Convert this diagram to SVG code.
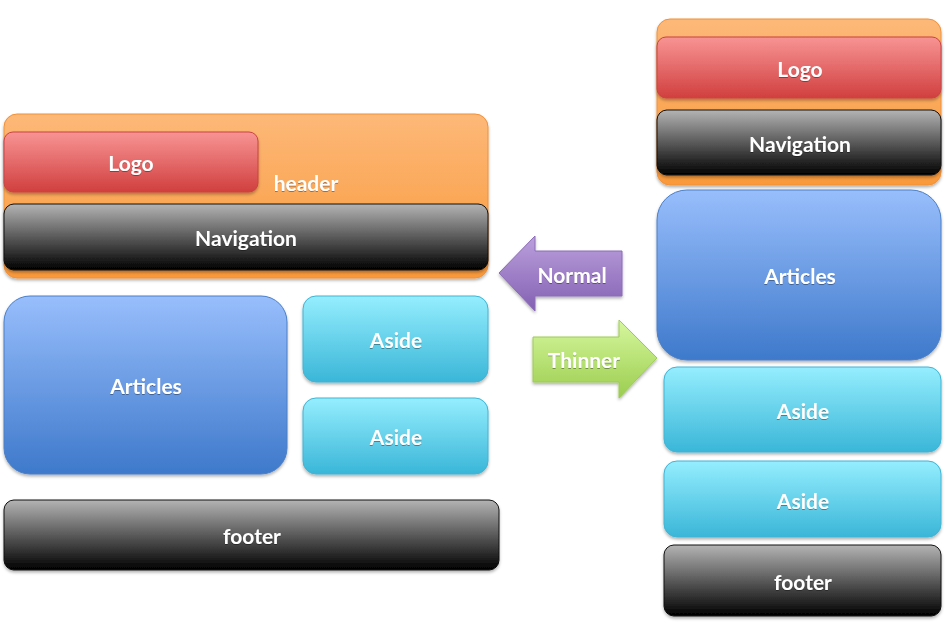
<svg xmlns="http://www.w3.org/2000/svg" width="947" height="625" viewBox="0 0 947 625">
<defs>
<linearGradient id="gOrange" x1="0" y1="0" x2="0" y2="1"><stop offset="0" stop-color="#fdb878"/><stop offset="1" stop-color="#f9993a"/></linearGradient>
<linearGradient id="gRed" x1="0" y1="0" x2="0" y2="1"><stop offset="0" stop-color="#f89494"/><stop offset="1" stop-color="#d13f3f"/></linearGradient>
<linearGradient id="gBlack" x1="0" y1="0" x2="0" y2="1"><stop offset="0" stop-color="#b4b4b4"/><stop offset="1" stop-color="#000000"/></linearGradient>
<linearGradient id="gBlue" x1="0" y1="0" x2="0" y2="1"><stop offset="0" stop-color="#98befc"/><stop offset="1" stop-color="#3e79cb"/></linearGradient>
<linearGradient id="gCyan" x1="0" y1="0" x2="0" y2="1"><stop offset="0" stop-color="#95eefe"/><stop offset="1" stop-color="#3ab6d8"/></linearGradient>
<linearGradient id="gPurple" x1="0" y1="0" x2="0" y2="1"><stop offset="0" stop-color="#bba0dc"/><stop offset="1" stop-color="#8360b3"/></linearGradient>
<linearGradient id="gGreen" x1="0" y1="0" x2="0" y2="1"><stop offset="0" stop-color="#d6f79e"/><stop offset="1" stop-color="#9bcd4f"/></linearGradient>
<filter id="sh" x="-10%" y="-10%" width="120%" height="130%"><feDropShadow dx="0" dy="2" stdDeviation="1.5" flood-color="#000" flood-opacity="0.3"/></filter>
<filter id="ts" x="-10%" y="-20%" width="120%" height="140%"><feDropShadow dx="0" dy="1" stdDeviation="0.6" flood-color="#000" flood-opacity="0.35"/></filter>
</defs>
<style>
text{font-family:Lato,"Open Sans","Liberation Sans",sans-serif;font-size:21px;font-weight:bold;fill:#fff;text-anchor:middle;filter:url(#ts)}
.orange{fill:url(#gOrange);stroke:#f0913a;stroke-width:1}
.red{fill:url(#gRed);stroke:#c84444;stroke-width:1}
.black{fill:url(#gBlack);stroke:#111;stroke-width:1}
.blue{fill:url(#gBlue);stroke:#4a7fc8;stroke-width:1}
.cyan{fill:url(#gCyan);stroke:#40b4d4;stroke-width:1}
.box{filter:url(#sh)}
</style>
<rect width="947" height="625" fill="#fff"/>
<g id="left-header"><rect class="orange box" x="4" y="114" width="484" height="164" rx="13"/><text x="306" y="191">header</text></g>
<g id="left-logo"><rect class="red box" x="4" y="132" width="254" height="60" rx="9"/><text x="131" y="171">Logo</text></g>
<g id="left-nav"><rect class="black box" x="4" y="204" width="484" height="66" rx="10"/><text x="246" y="246">Navigation</text></g>
<g id="left-articles"><rect class="blue box" x="4" y="296" width="283" height="178" rx="26"/><text x="146" y="394">Articles</text></g>
<g id="left-aside1"><rect class="cyan box" x="303" y="296" width="185" height="86" rx="13"/><text x="396" y="348">Aside</text></g>
<g id="left-aside2"><rect class="cyan box" x="303" y="398" width="185" height="76" rx="13"/><text x="396" y="445">Aside</text></g>
<g id="left-footer"><rect class="black box" x="4" y="500" width="495" height="70" rx="10"/><text x="252" y="544">footer</text></g>
<g id="right-header"><rect class="orange box" x="657" y="19" width="284" height="166" rx="13"/></g>
<g id="right-logo"><rect class="red box" x="657" y="37" width="284" height="61" rx="9"/><text x="800" y="77">Logo</text></g>
<g id="right-nav"><rect class="black box" x="657" y="110" width="284" height="65" rx="10"/><text x="800" y="152">Navigation</text></g>
<g id="right-articles"><rect class="blue box" x="657" y="190" width="284" height="170" rx="30"/><text x="800" y="284">Articles</text></g>
<g id="right-aside1"><rect class="cyan box" x="664" y="367" width="277" height="85" rx="13"/><text x="803" y="419">Aside</text></g>
<g id="right-aside2"><rect class="cyan box" x="664" y="461" width="277" height="76" rx="13"/><text x="803" y="509">Aside</text></g>
<g id="right-footer"><rect class="black box" x="664" y="545" width="277" height="71" rx="10"/><text x="803" y="590">footer</text></g>
<g id="connectors">
<g id="arrow-normal"><path d="M499,273 L535,236 L535,251 L622,251 L622,296 L535,296 L535,311 Z" fill="url(#gPurple)" stroke="#8c6cb8" stroke-width="1" filter="url(#sh)"/><text x="572" y="283">Normal</text></g>
<g id="arrow-thinner"><path d="M657,358 L619,320 L619,337 L533,337 L533,382 L619,382 L619,398 Z" fill="url(#gGreen)" stroke="#9ccc55" stroke-width="1" filter="url(#sh)"/><text x="584" y="368">Thinner</text></g>
</g>
</svg>
